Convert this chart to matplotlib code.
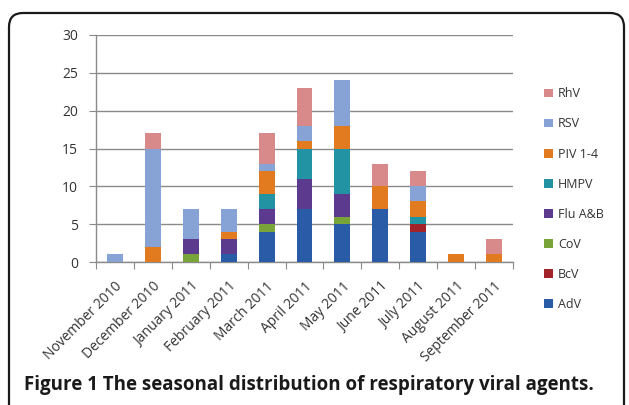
import matplotlib.pyplot as plt
plt.switch_backend('agg')
import numpy as np
from matplotlib.patches import FancyBboxPatch

months = ['November 2010', 'December 2010', 'January 2011', 'February 2011',
          'March 2011', 'April 2011', 'May 2011', 'June 2011', 'July 2011',
          'August 2011', 'September 2011']

# stacked from bottom to top
AdV  = [0, 0, 0, 1, 4, 7, 5, 7, 4, 0, 0]
BcV  = [0, 0, 0, 0, 0, 0, 0, 0, 1, 0, 0]
CoV  = [0, 0, 1, 0, 1, 0, 1, 0, 0, 0, 0]
Flu  = [0, 0, 2, 2, 2, 4, 3, 0, 0, 0, 0]
HMPV = [0, 0, 0, 0, 2, 4, 6, 0, 1, 0, 0]
PIV  = [0, 2, 0, 1, 3, 1, 3, 3, 2, 1, 1]
RSV  = [1, 13, 4, 3, 1, 2, 6, 0, 2, 0, 0]
RhV  = [0, 2, 0, 0, 4, 5, 0, 3, 2, 0, 2]

series = [('AdV', AdV, '#2a5ba6'), ('BcV', BcV, '#a3232b'), ('CoV', CoV, '#79a43a'),
          ('Flu A&B', Flu, '#5c3a8d'), ('HMPV', HMPV, '#2193a3'), ('PIV 1-4', PIV, '#e27a20'),
          ('RSV', RSV, '#87a3d5'), ('RhV', RhV, '#d88a8a')]

plt.rcParams['font.family'] = ['Open Sans', 'DejaVu Sans']
W, H = 629, 405
fig = plt.figure(figsize=(W / 100, H / 100), dpi=100)

# rounded outer frame (pixel coordinates)
frame = FancyBboxPatch((9, -20), 615, H - 13 + 20,
                       boxstyle='round,pad=0,rounding_size=14',
                       fc='none', ec='#1a1a1a', lw=1.6, transform=None)
fig.patches.append(frame)

ax = fig.add_axes([96 / W, (H - 262) / H, 417 / W, 227 / H])
x = np.arange(len(months))
bottom = np.zeros(len(months))
handles = []
for name, vals, col in series:
    b = ax.bar(x, vals, 0.42, bottom=bottom, color=col, label=name, zorder=3)
    handles.append(b)
    bottom += np.array(vals)

ax.set_xlim(-0.5, len(months) - 0.5)
ax.set_ylim(0, 30)
ax.set_yticks(range(0, 31, 5))
ax.yaxis.grid(True, color='#8a8a8a', lw=1, zorder=0)
for s in ['top', 'right']:
    ax.spines[s].set_visible(False)
for s in ['left', 'bottom']:
    ax.spines[s].set_color('#8a8a8a')
    ax.spines[s].set_linewidth(1)
ax.tick_params(axis='y', length=5, color='#8a8a8a', labelsize=10, labelcolor='#333333', pad=8)

# category boundary ticks, labels at centres
ax.set_xticks(np.arange(-0.5, len(months), 1))
ax.set_xticklabels([])
ax.tick_params(axis='x', length=5, color='#8a8a8a')
ax.set_xticks(x, minor=True)
ax.set_xticklabels(months, minor=True, rotation=45, ha='right', rotation_mode='anchor',
                   fontsize=10, color='#333333')
ax.tick_params(axis='x', which='minor', length=0, pad=12)

leg = fig.legend(handles[::-1], [s[0] for s in series][::-1], loc='upper left',
                 bbox_to_anchor=(533 / W, 1 - 76 / H), frameon=False, fontsize=9,
                 handlelength=0.7, handleheight=0.7, handletextpad=0.4, labelspacing=1.37,
                 labelcolor='#333333')

fig.text(24 / W, 1 - 390 / H, 'Figure 1 The seasonal distribution of respiratory viral agents.',
         fontsize=13.5, fontweight='bold', color='#1a1a1a', va='baseline')

fig.savefig('out.png', dpi=100)
